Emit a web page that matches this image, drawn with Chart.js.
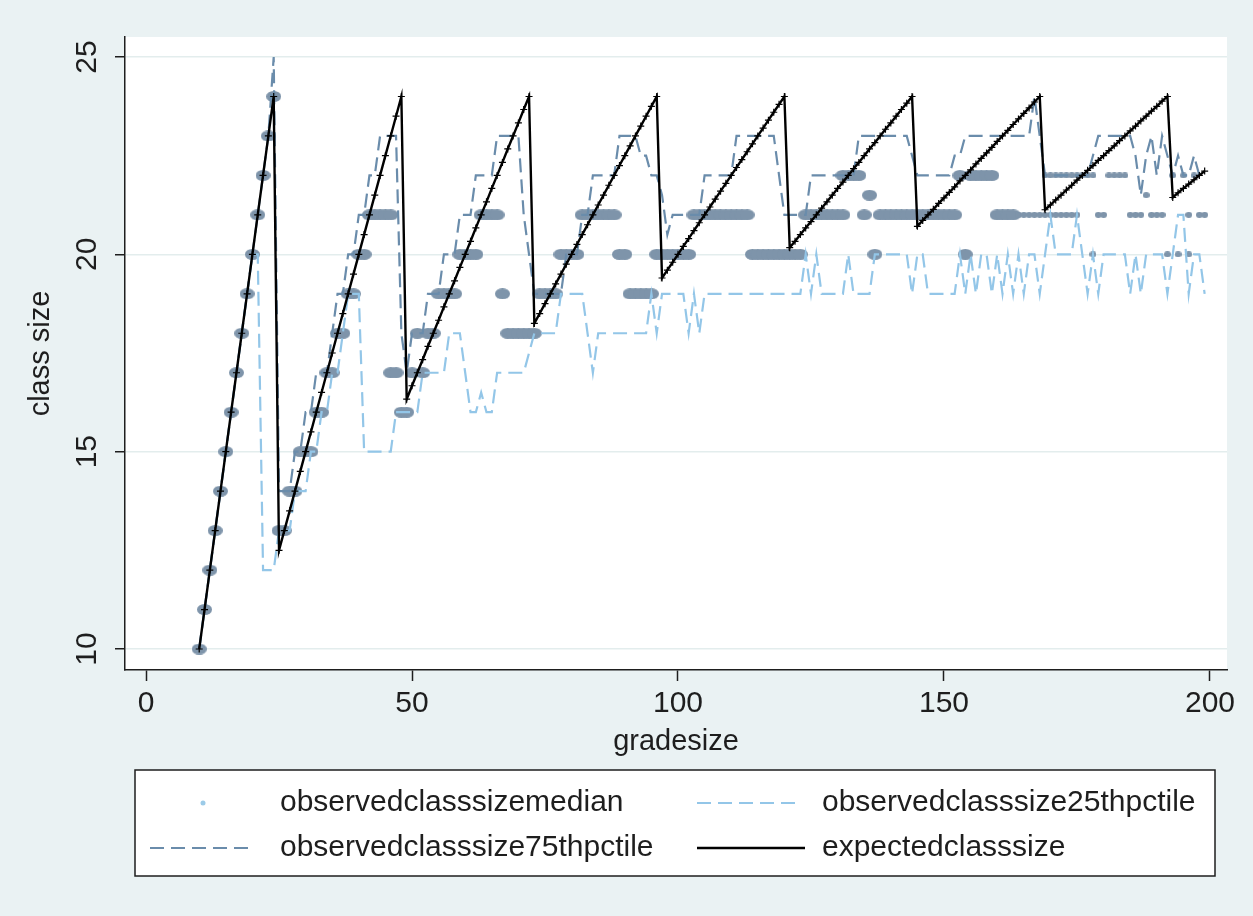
<!DOCTYPE html>
<html lang="en">
<head>
<meta charset="UTF-8">
<title>Class size by grade size</title>
<script src="https://cdn.jsdelivr.net/npm/chart.js"></script>
<style>
  html, body { margin: 0; padding: 0; background: #eaf2f3; }
  #wrap { width: 1253px; height: 916px; }
</style>
</head>
<body>
<div id="wrap"><canvas id="classChart" width="1253" height="916"></canvas></div>
<script>
// grade sizes 10..199, one row per ten
const gradeSize = [
  10, 11, 12, 13, 14, 15, 16, 17, 18, 19,
  20, 21, 22, 23, 24, 25, 26, 27, 28, 29,
  30, 31, 32, 33, 34, 35, 36, 37, 38, 39,
  40, 41, 42, 43, 44, 45, 46, 47, 48, 49,
  50, 51, 52, 53, 54, 55, 56, 57, 58, 59,
  60, 61, 62, 63, 64, 65, 66, 67, 68, 69,
  70, 71, 72, 73, 74, 75, 76, 77, 78, 79,
  80, 81, 82, 83, 84, 85, 86, 87, 88, 89,
  90, 91, 92, 93, 94, 95, 96, 97, 98, 99,
  100, 101, 102, 103, 104, 105, 106, 107, 108, 109,
  110, 111, 112, 113, 114, 115, 116, 117, 118, 119,
  120, 121, 122, 123, 124, 125, 126, 127, 128, 129,
  130, 131, 132, 133, 134, 135, 136, 137, 138, 139,
  140, 141, 142, 143, 144, 145, 146, 147, 148, 149,
  150, 151, 152, 153, 154, 155, 156, 157, 158, 159,
  160, 161, 162, 163, 164, 165, 166, 167, 168, 169,
  170, 171, 172, 173, 174, 175, 176, 177, 178, 179,
  180, 181, 182, 183, 184, 185, 186, 187, 188, 189,
  190, 191, 192, 193, 194, 195, 196, 197, 198, 199
];

const expectedClassSize = [
  10, 11, 12, 13, 14, 15, 16, 17, 18, 19,
  20, 21, 22, 23, 24, 12.5, 13, 13.5, 14, 14.5,
  15, 15.5, 16, 16.5, 17, 17.5, 18, 18.5, 19, 19.5,
  20, 20.5, 21, 21.5, 22, 22.5, 23, 23.5, 24, 16.33,
  16.67, 17, 17.33, 17.67, 18, 18.33, 18.67, 19, 19.33, 19.67,
  20, 20.33, 20.67, 21, 21.33, 21.67, 22, 22.33, 22.67, 23,
  23.33, 23.67, 24, 18.25, 18.5, 18.75, 19, 19.25, 19.5, 19.75,
  20, 20.25, 20.5, 20.75, 21, 21.25, 21.5, 21.75, 22, 22.25,
  22.5, 22.75, 23, 23.25, 23.5, 23.75, 24, 19.4, 19.6, 19.8,
  20, 20.2, 20.4, 20.6, 20.8, 21, 21.2, 21.4, 21.6, 21.8,
  22, 22.2, 22.4, 22.6, 22.8, 23, 23.2, 23.4, 23.6, 23.8,
  24, 20.17, 20.33, 20.5, 20.67, 20.83, 21, 21.17, 21.33, 21.5,
  21.67, 21.83, 22, 22.17, 22.33, 22.5, 22.67, 22.83, 23, 23.17,
  23.33, 23.5, 23.67, 23.83, 24, 20.71, 20.86, 21, 21.14, 21.29,
  21.43, 21.57, 21.71, 21.86, 22, 22.14, 22.29, 22.43, 22.57, 22.71,
  22.86, 23, 23.14, 23.29, 23.43, 23.57, 23.71, 23.86, 24, 21.13,
  21.25, 21.38, 21.5, 21.63, 21.75, 21.88, 22, 22.13, 22.25, 22.38,
  22.5, 22.63, 22.75, 22.88, 23, 23.13, 23.25, 23.38, 23.5, 23.63,
  23.75, 23.88, 24, 21.44, 21.56, 21.67, 21.78, 21.89, 22, 22.11
];

const classSize75th = [
  10, 11, 12, 13, 14, 15, 16, 17, 18, 19,
  20, 21, 22, 23, 25, 14, 14, 14, 15, 15,
  16, 16, 17, 17, 17, 18, 19, 19, 20, 20,
  21, 21, 22, 22, 23, 23, 23, 23, 18, 17,
  18, 18, 18, 19, 19, 19, 20, 20, 20, 21,
  21, 21, 22, 22, 22, 22, 23, 23, 23, 23,
  23, 21, 20, 19, 19, 19, 19, 19, 19, 20,
  20, 20, 21, 21, 22, 22, 22, 22, 22, 23,
  23, 23, 23, 22.5, 22.5, 22, 22, 21.5, 20.5, 21,
  21, 21, 21, 21, 21, 22, 22, 22, 22, 22,
  22, 23, 23, 23, 23, 23, 23, 23, 23, 22,
  21, 21, 21, 21, 21, 22, 22, 22, 22, 22,
  22, 22, 22, 22, 23, 23, 23, 23, 23, 23,
  23, 23, 23, 23, 22.5, 22, 22, 22, 22, 22,
  22, 22, 22.5, 22.5, 23, 23, 23, 23, 23, 23,
  23, 23, 23, 23, 23, 23, 23, 24, 23, 22,
  22, 22, 22, 22, 22, 22, 22, 22, 22.5, 23,
  23, 23, 23, 23, 23, 23, 22.5, 21.5, 22.5, 23,
  22, 23, 22.5, 22, 22.5, 22, 22, 22.5, 22, 22
];

const classSize25th = [
  10, 11, 12, 13, 14, 15, 16, 17, 18, 19,
  20, 20, 12, 12, 12, 13, 13, 13, 14, 14,
  14, 15, 15, 16, 16, 17, 17, 18, 19, 19,
  19, 15, 15, 15, 15, 15, 15, 16, 16, 16,
  16, 16, 17, 17, 17, 17, 17, 18, 18, 18,
  17, 16, 16, 16.5, 16, 16, 17, 17, 17, 17,
  17, 17, 17.5, 18, 18, 18, 18, 18, 19, 19,
  19, 19, 19, 18, 17, 18, 18, 18, 18, 18,
  18, 18, 18, 18, 18, 19, 18, 19, 19, 19,
  19, 19, 18, 19, 18, 19, 19, 19, 19, 19,
  19, 19, 19, 19, 19, 19, 19, 19, 19, 19,
  19, 19, 19, 19, 20, 19, 20, 19, 19, 19,
  19, 19, 20, 19, 19, 19, 19, 20, 20, 20,
  20, 20, 20, 20, 19, 20, 20, 19, 19, 19,
  19, 19, 19, 20, 19, 20, 19, 20, 20, 19,
  20, 19, 20, 19, 20, 19, 20, 20, 19, 20,
  21, 20, 20, 20, 20, 21, 20, 19, 20, 19,
  20, 20, 20, 20, 20, 19, 20, 19, 20, 20,
  20, 20, 19, 20, 21, 21, 19, 20, 20, 19
];

// median scatter: some grade sizes carry two observations
const medianGrade = [
  10, 11, 12, 13, 14, 15, 16, 17, 18, 19, 20, 21, 22, 23, 24,
  25, 26, 27, 28, 29, 30, 31, 32, 33, 34, 35, 36, 37, 38, 39, 40, 41,
  42, 43, 44, 45, 46, 46, 47, 48, 49, 50, 51, 52, 53, 54, 55, 56, 57, 58, 59,
  60, 61, 62, 63, 64, 65, 66, 67, 68, 69, 70, 71, 72, 73, 74, 75, 76, 77, 78, 79,
  80, 81, 82, 83, 84, 85, 86, 87, 88, 89, 90, 91, 92, 93, 94, 95, 96, 97, 98, 99,
  100, 101, 102, 103, 104, 105, 106, 107, 108, 109, 110, 111, 112, 113, 114, 115, 116, 117, 118, 119,
  120, 121, 122, 123, 124, 125, 126, 127, 128, 129, 130, 131, 131, 132, 133, 134, 135, 136, 137, 138, 139,
  140, 141, 142, 143, 144, 145, 146, 147, 148, 149, 150, 151, 152, 153, 154, 155, 156, 157, 158, 159,
  160, 161, 162, 163, 164, 165, 166, 167, 168, 169, 169, 170, 170, 171, 171, 172, 172, 173, 173, 174, 174,
  175, 175, 176, 177, 178, 178, 179, 180, 181, 182, 183, 184, 185, 186, 187, 188, 189,
  190, 191, 192, 193, 194, 195, 196, 196, 197, 198, 199
];
const medianSize = [
  10, 11, 12, 13, 14, 15, 16, 17, 18, 19, 20, 21, 22, 23, 24,
  13, 13, 14, 14, 15, 15, 15, 16, 16, 17, 17, 18, 18, 19, 19, 20, 20,
  21, 21, 21, 21, 21, 17, 17, 16, 16, 17, 18, 17, 18, 18, 19, 19, 19, 19, 20,
  20, 20, 20, 21, 21, 21, 21, 19, 18, 18, 18, 18, 18, 18, 19, 19, 19, 19, 20, 20,
  20, 20, 21, 21, 21, 21, 21, 21, 21, 20, 20, 19, 19, 19, 19, 19, 20, 20, 20, 20,
  20, 20, 20, 21, 21, 21, 21, 21, 21, 21, 21, 21, 21, 21, 20, 20, 20, 20, 20, 20,
  20, 20, 20, 20, 21, 21, 21, 21, 21, 21, 21, 21, 22, 22, 22, 22, 21, 21.5, 20, 21, 21,
  21, 21, 21, 21, 21, 21, 21, 21, 21, 21, 21, 21, 21, 22, 20, 22, 22, 22, 22, 22,
  21, 21, 21, 21, 21, 21, 21, 21, 21, 22, 21, 22, 21, 22, 21, 22, 21, 22, 21, 22, 21,
  22, 21, 22, 22, 20, 22, 21, 21, 22, 22, 22, 22, 21, 21, 21, 21.5, 21,
  21, 21, 20, 22, 20, 22, 21, 20, 22, 21, 21
];

const xTickValues = [0, 50, 100, 150, 200];
const yTickValues = [10, 15, 20, 25];

const fontFamily = '"Liberation Sans", Arial, Helvetica, sans-serif';
const textColor = '#1e1e1e';
const axisColor = '#1e1e1e';
const medianColor = 'rgb(126,148,170)';
const p75Color = '#6a8cab';
const p25Color = '#93c6e8';

function toPoints(xs, ys) {
  return xs.map((x, i) => ({ x: x, y: ys[i] }));
}

// filled ellipse used as the scatter marker
function ellipseMarker(w, h, color) {
  const c = document.createElement('canvas');
  c.width = w;
  c.height = h;
  const g = c.getContext('2d');
  g.fillStyle = color;
  g.beginPath();
  g.ellipse(w / 2, h / 2, w / 2, h / 2, 0, 0, Math.PI * 2);
  g.fill();
  return c;
}
const bigDot = ellipseMarker(15, 11, medianColor);
const smallDot = ellipseMarker(7, 6, medianColor);

const plotBackground = {
  id: 'plotBackground',
  beforeDraw(chart) {
    const { ctx, chartArea: a } = chart;
    ctx.save();
    ctx.fillStyle = '#ffffff';
    ctx.fillRect(a.left, a.top, a.right - a.left, a.bottom - a.top);
    ctx.restore();
  }
};

// vertical tick labels on the y axis, read bottom to top
const yTickLabels = {
  id: 'yTickLabels',
  afterDraw(chart) {
    const { ctx } = chart;
    const y = chart.scales.y;
    ctx.save();
    ctx.font = '30px ' + fontFamily;
    ctx.fillStyle = textColor;
    ctx.textAlign = 'center';
    ctx.textBaseline = 'middle';
    y.ticks.forEach(t => {
      ctx.save();
      ctx.translate(y.right - 37, y.getPixelForValue(t.value));
      ctx.rotate(-Math.PI / 2);
      ctx.fillText(String(t.value), 0, 0);
      ctx.restore();
    });
    ctx.restore();
  }
};

// boxed two-column legend under the x axis title
const boxLegend = {
  id: 'boxLegend',
  afterDraw(chart) {
    const { ctx } = chart;
    const box = { left: 135, top: 770, right: 1215, bottom: 876 };
    const rows = [803, 848];
    const ds = chart.data.datasets;
    const byLabel = l => ds.find(d => d.label === l);

    ctx.save();
    ctx.fillStyle = '#ffffff';
    ctx.fillRect(box.left, box.top, box.right - box.left, box.bottom - box.top);
    ctx.strokeStyle = axisColor;
    ctx.lineWidth = 1.5;
    ctx.strokeRect(box.left, box.top, box.right - box.left, box.bottom - box.top);

    function lineKey(d, x0, x1, y) {
      ctx.save();
      ctx.strokeStyle = d.borderColor;
      ctx.lineWidth = d.borderWidth;
      ctx.setLineDash(d.borderDash || []);
      ctx.beginPath();
      ctx.moveTo(x0, y);
      ctx.lineTo(x1, y);
      ctx.stroke();
      ctx.restore();
    }

    // median key is a tiny light dot
    ctx.fillStyle = '#9ccbe8';
    ctx.beginPath();
    ctx.arc(203, rows[0], 2.5, 0, Math.PI * 2);
    ctx.fill();

    lineKey(byLabel('observedclasssize25thpctile'), 697, 800, rows[0]);
    lineKey(byLabel('observedclasssize75thpctile'), 150, 250, rows[1]);
    lineKey(byLabel('expectedclasssize'), 697, 805, rows[1]);

    ctx.font = '30px ' + fontFamily;
    ctx.fillStyle = textColor;
    ctx.textAlign = 'left';
    ctx.textBaseline = 'middle';
    ctx.fillText('observedclasssizemedian', 280, rows[0]);
    ctx.fillText('observedclasssize25thpctile', 822, rows[0]);
    ctx.fillText('observedclasssize75thpctile', 280, rows[1]);
    ctx.fillText('expectedclasssize', 822, rows[1]);
    ctx.restore();
  }
};

const ctx = document.getElementById('classChart').getContext('2d');
const classChart = new Chart(ctx, {
  type: 'scatter',
  data: {
    datasets: [
      {
        label: 'expectedclasssize',
        data: toPoints(gradeSize, expectedClassSize),
        showLine: true,
        borderColor: '#000000',
        borderWidth: 2.4,
        pointStyle: 'cross',
        pointRadius: 3.5,
        pointBorderWidth: 1.2,
        pointBorderColor: '#000000',
        order: 0
      },
      {
        label: 'observedclasssize75thpctile',
        data: toPoints(gradeSize, classSize75th),
        showLine: true,
        borderColor: p75Color,
        borderWidth: 2.2,
        borderDash: [14, 7],
        pointRadius: 0,
        order: 1
      },
      {
        label: 'observedclasssize25thpctile',
        data: toPoints(gradeSize, classSize25th),
        showLine: true,
        borderColor: p25Color,
        borderWidth: 2.2,
        borderDash: [14, 7],
        pointRadius: 0,
        order: 2
      },
      {
        label: 'observedclasssizemedian',
        data: toPoints(medianGrade, medianSize),
        pointStyle: c => (c.raw && c.raw.x >= 164 ? smallDot : bigDot),
        pointRadius: 5,
        backgroundColor: medianColor,
        borderColor: medianColor,
        order: 3
      }
    ]
  },
  options: {
    responsive: false,
    animation: false,
    layout: { padding: { top: 37, right: 26, bottom: 154, left: 0 } },
    plugins: {
      legend: { display: false },
      tooltip: { enabled: false }
    },
    scales: {
      x: {
        type: 'linear',
        min: -3.95,
        max: 203.2,
        afterBuildTicks: s => { s.ticks = xTickValues.map(v => ({ value: v })); },
        afterFit: s => { s.height = 92; },
        grid: { drawOnChartArea: false, tickLength: 11, tickColor: axisColor, tickWidth: 1.5 },
        border: { color: axisColor, width: 1.5 },
        ticks: { color: textColor, font: { family: fontFamily, size: 30 }, padding: 5, maxRotation: 0 },
        title: {
          display: true,
          text: 'gradesize',
          color: textColor,
          font: { family: fontFamily, size: 29 },
          padding: { top: 0, bottom: 3 }
        }
      },
      y: {
        min: 9.468,
        max: 25.507,
        afterBuildTicks: s => { s.ticks = yTickValues.map(v => ({ value: v })); },
        afterFit: s => { s.width = 125; },
        grid: { color: '#e3eded', lineWidth: 1.5, tickLength: 10, tickColor: axisColor, tickWidth: 1.5 },
        border: { color: axisColor, width: 1.5 },
        ticks: { display: false },
        title: {
          display: true,
          text: 'class size',
          color: textColor,
          font: { family: fontFamily, size: 29 },
          padding: { top: 24, bottom: 0 }
        }
      }
    }
  },
  plugins: [plotBackground, yTickLabels, boxLegend]
});
</script>
</body>
</html>
